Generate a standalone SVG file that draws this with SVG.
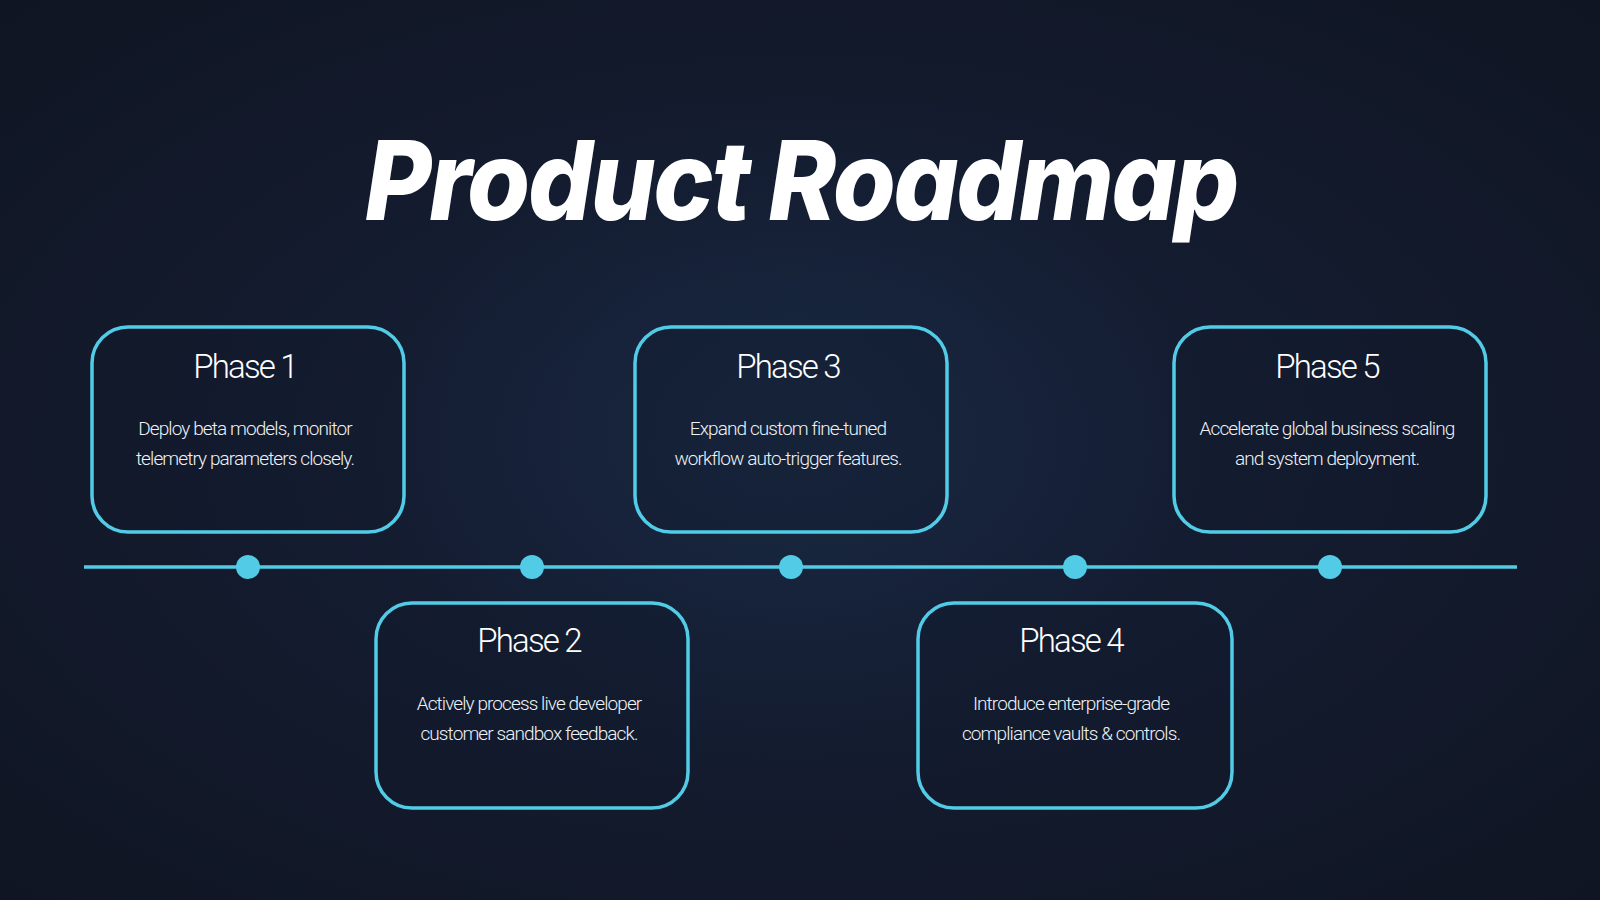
<svg xmlns="http://www.w3.org/2000/svg" width="1600" height="900" viewBox="0 0 1600 900">
  <defs>
    <radialGradient id="bg" cx="50%" cy="50%" r="70%">
      <stop offset="0" stop-color="#16203a"/>
      <stop offset="0.6" stop-color="#131a2c"/>
      <stop offset="1" stop-color="#0f1522"/>
    </radialGradient>
    <radialGradient id="glow" cx="50%" cy="50%" r="50%">
      <stop offset="0" stop-color="#1c3a52" stop-opacity="0.35"/>
      <stop offset="1" stop-color="#1c3a52" stop-opacity="0"/>
    </radialGradient>
  </defs>
  <style>
    .box { fill: #121a2b; fill-opacity: 0.35; stroke: #52cbe6; stroke-width: 3.5; }
    .dot { fill: #52cbe6; }
    .line { stroke: #52cbe6; stroke-width: 3.5; fill: none; }
    .ptitle { font-family: Roboto, "Liberation Sans", sans-serif; font-weight: 300; font-size: 33px; fill: #ffffff; text-anchor: middle; letter-spacing: -1.8px; }
    .body { font-family: Roboto, "Liberation Sans", sans-serif; font-weight: 300; font-size: 19px; fill: #eef2f6; text-anchor: middle; letter-spacing: -0.9px; }
    .main { font-family: Inter, "Liberation Sans", sans-serif; font-weight: 800; font-style: italic; font-size: 110px; fill: #ffffff; text-anchor: middle; letter-spacing: -2.5px; }
  </style>
  <rect width="1600" height="900" fill="url(#bg)"/>
  <ellipse cx="790" cy="430" rx="420" ry="330" fill="url(#glow)"/>

  <text class="main" x="801" y="220" textLength="872" lengthAdjust="spacingAndGlyphs">Product Roadmap</text>

  <g id="connectors">
    <line class="line" x1="84" y1="567" x2="1517" y2="567"/>
    <circle class="dot" cx="248" cy="567" r="12"/>
    <circle class="dot" cx="532" cy="567" r="12"/>
    <circle class="dot" cx="791" cy="567" r="12"/>
    <circle class="dot" cx="1075" cy="567" r="12"/>
    <circle class="dot" cx="1330" cy="567" r="12"/>
  </g>

  <g id="phase1">
    <rect class="box" x="92" y="327" width="312" height="205" rx="36"/>
    <text class="ptitle" x="245" y="378">Phase 1</text>
    <text class="body" x="245" y="435">Deploy beta models, monitor</text>
    <text class="body" x="245" y="465">telemetry parameters closely.</text>
  </g>

  <g id="phase2">
    <rect class="box" x="376" y="603" width="312" height="205" rx="36"/>
    <text class="ptitle" x="529" y="652">Phase 2</text>
    <text class="body" x="529" y="710">Actively process live developer</text>
    <text class="body" x="529" y="740">customer sandbox feedback.</text>
  </g>

  <g id="phase3">
    <rect class="box" x="635" y="327" width="312" height="205" rx="36"/>
    <text class="ptitle" x="788" y="378">Phase 3</text>
    <text class="body" x="788" y="435">Expand custom fine-tuned</text>
    <text class="body" x="788" y="465">workflow auto-trigger features.</text>
  </g>

  <g id="phase4">
    <rect class="box" x="918" y="603" width="314" height="205" rx="36"/>
    <text class="ptitle" x="1071" y="652">Phase 4</text>
    <text class="body" x="1071" y="710">Introduce enterprise-grade</text>
    <text class="body" x="1071" y="740">compliance vaults &amp; controls.</text>
  </g>

  <g id="phase5">
    <rect class="box" x="1174" y="327" width="312" height="205" rx="36"/>
    <text class="ptitle" x="1327" y="378">Phase 5</text>
    <text class="body" x="1327" y="435">Accelerate global business scaling</text>
    <text class="body" x="1327" y="465">and system deployment.</text>
  </g>
</svg>
